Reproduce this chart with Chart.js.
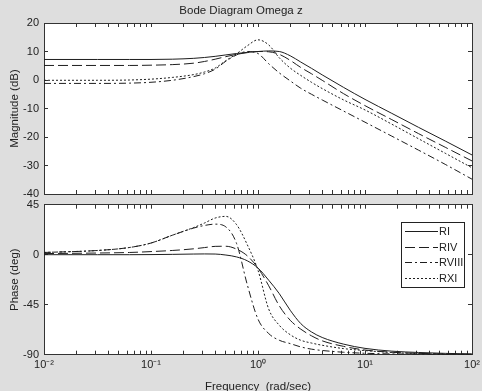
<!DOCTYPE html>
<html>
<head>
<meta charset="utf-8">
<title>Bode Diagram Omega z</title>
<script src="https://cdn.jsdelivr.net/npm/chart.js@4.4.1/dist/chart.umd.min.js"></script>
<style>
  html, body { margin: 0; padding: 0; background: #dedede; overflow: hidden; }
  #wrap { position: relative; width: 482px; height: 391px; overflow: hidden; }
  .box { position: absolute; left: 0; width: 482px; }
  #magBox { top: 0; height: 200px; }
  #phaseBox { top: 197px; height: 200px; }
</style>
</head>
<body>
<div id="wrap">
  <div class="box" id="magBox"><canvas id="magChart"></canvas></div>
  <div class="box" id="phaseBox"><canvas id="phaseChart"></canvas></div>
</div>
<script>
// --- data ---
const freq = [0.01, 0.0316, 0.0631, 0.1, 0.158, 0.251, 0.316, 0.398, 0.501, 0.631, 0.794, 1,
              1.26, 1.58, 2.0, 2.51, 3.16, 3.98, 6.31, 10, 17.8, 31.6, 56.2, 100];

const seriesNames = ['RI', 'RIV', 'RVIII', 'RXI'];

// magnitude (dB)
const magRI    = [7.2, 7.2, 7.2, 7.2, 7.3, 7.6, 7.9, 8.3, 8.8, 9.3, 9.7, 10.0, 10.2, 10.0, 8.5, 6.3, 4.1, 1.8, -2.6, -6.8, -11.7, -16.6, -21.4, -26.3];
const magRIV   = [5.1, 5.1, 5.1, 5.2, 5.4, 5.9, 6.5, 7.3, 8.2, 9.0, 9.6, 10.0, 9.9, 9.0, 6.9, 4.4, 2.2, -0.1, -4.8, -9.0, -13.9, -18.8, -23.6, -28.4];
const magRVIII = [-1.2, -1.2, -1.1, -0.8, -0.1, 1.2, 2.2, 3.8, 6.6, 8.8, 10.0, 9.3, 5.7, 2.5, -0.3, -2.9, -5.0, -7.0, -10.9, -14.8, -19.7, -24.6, -29.6, -34.8];
const magRXI   = [-0.1, -0.1, 0.0, 0.3, 0.9, 1.9, 2.8, 4.2, 6.8, 9.2, 12.0, 14.1, 12.3, 7.8, 4.2, 1.6, -0.8, -3.0, -7.0, -10.5, -15.5, -20.6, -25.7, -30.8];

// phase (deg)
const phRI    = [0, 0, 0, 0.1, 0.3, 0.6, 0.7, 0.6, -0.3, -2.0, -5.5, -12, -23, -35, -50, -62, -69.5, -74.5, -80.5, -84.3, -86.8, -88, -88.8, -89.3];
const phRIV   = [1.0, 1.5, 2.0, 2.8, 3.8, 5.3, 6.4, 7.5, 7.6, 5.0, -1.0, -12, -28, -46, -59, -67, -73, -77.5, -82.5, -85.8, -87.8, -88.8, -89.3, -89.6];
const phRVIII = [2.0, 3.8, 6.5, 10.5, 17.5, 24.0, 26.3, 27.5, 25.0, 10.0, -27, -58, -71, -77, -80, -83, -85, -86.2, -87.8, -88.7, -89.3, -89.6, -89.8, -90];
const phRXI   = [2.0, 3.8, 6.5, 10.5, 17.5, 24.5, 28.5, 33.0, 34.5, 27.0, 9.0, -14, -49, -63.5, -72, -77, -79.5, -81.5, -84.5, -86.3, -88, -89, -89.5, -89.8];

// ticks
const decades = [0.01, 0.1, 1, 10, 100];
const xTickLabels = ['10\u207B\u00B2', '10\u207B\u00B9', '10\u2070', '10\u00B9', '10\u00B2'];
const minorSteps = [1, 2, 3, 4, 5, 6, 7, 8, 9];
const magTicks = [-40, -30, -20, -10, 0, 10, 20];
const phaseTicks = [-90, -45, 0, 45];

const lineStyles = [[], [10, 4], [7, 3, 2, 3], [2, 2]];
const lineColor = '#1e1e1e';
const axisColor = '#333';

Chart.defaults.font.family = '"Liberation Sans", Arial, sans-serif';
Chart.defaults.font.size = 11;
Chart.defaults.color = '#222';

function pts(values) {
  return values.map((v, i) => ({ x: freq[i], y: v }));
}

function makeSets(lists) {
  return lists.map((vals, i) => ({
    label: seriesNames[i],
    data: pts(vals),
    borderColor: lineColor,
    borderWidth: 1,
    borderDash: lineStyles[i],
    pointRadius: 0,
    fill: false,
    cubicInterpolationMode: 'monotone'
  }));
}

function setLogTicks(scale) {
  const t = [];
  decades.forEach(d => minorSteps.forEach(m => {
    const v = d * m;
    if (v <= 100.0001) t.push({ value: v });
  }));
  scale.ticks = t;
}

function setFixedTicks(list) {
  return scale => { scale.ticks = list.map(v => ({ value: v })); };
}

function xLabel(v) {
  const i = decades.findIndex(d => Math.abs(d - v) / d < 1e-6);
  return i >= 0 ? xTickLabels[i] : '';
}

// keep the plot box where it is in the figure: no extra room for overhanging labels
function noPad(s) {
  s.paddingTop = 0; s.paddingBottom = 0; s.paddingLeft = 0; s.paddingRight = 0;
}

const gridOpts = { drawOnChartArea: false, drawTicks: true, tickLength: -4, color: axisColor };
const borderOpts = { display: true, color: axisColor, width: 1 };

function xScales(showLabels, height) {
  return {
    x: {
      type: 'logarithmic', position: 'bottom', min: 0.01, max: 100,
      afterBuildTicks: setLogTicks,
      afterFit: s => { s.height = height; noPad(s); },
      grid: gridOpts, border: borderOpts,
      ticks: { display: showLabels, autoSkip: false, maxRotation: 0, padding: 8, callback: xLabel },
      title: { display: showLabels, text: 'Frequency  (rad/sec)', font: { size: 11.5 }, padding: { top: 0, bottom: 3 } }
    },
    xTop: {
      type: 'logarithmic', position: 'top', min: 0.01, max: 100,
      afterBuildTicks: setLogTicks,
      afterFit: s => { s.height = 0; noPad(s); },
      grid: gridOpts, border: borderOpts,
      ticks: { display: false, autoSkip: false }
    }
  };
}

function yScales(min, max, list, title) {
  return {
    y: {
      type: 'linear', position: 'left', min: min, max: max,
      afterBuildTicks: setFixedTicks(list),
      afterFit: s => { s.width = 44; noPad(s); },
      grid: gridOpts, border: borderOpts,
      ticks: { padding: 9 },
      title: { display: true, text: title, font: { size: 11.5 }, padding: { top: 8, bottom: 0 } }
    },
    yRight: {
      type: 'linear', position: 'right', min: min, max: max,
      afterBuildTicks: setFixedTicks(list),
      afterFit: s => { s.width = 10; noPad(s); },
      grid: gridOpts, border: borderOpts,
      ticks: { display: false }
    }
  };
}

// white plot area like the MATLAB axes
const whiteArea = {
  id: 'whiteArea',
  beforeDraw(chart) {
    const { ctx, chartArea: a } = chart;
    ctx.save();
    ctx.fillStyle = '#fff';
    ctx.fillRect(a.left, a.top, a.right - a.left, a.bottom - a.top);
    ctx.restore();
  }
};

// legend box drawn inside the phase axes (upper right)
const insideLegend = {
  id: 'insideLegend',
  afterDraw(chart) {
    const { ctx, chartArea: a } = chart;
    const w = 63, h = 65;
    const x0 = Math.round(a.right - 8 - w), y0 = Math.round(a.top + 17);
    ctx.save();
    ctx.fillStyle = '#fff';
    ctx.fillRect(x0, y0, w, h);
    ctx.strokeStyle = '#222';
    ctx.lineWidth = 1;
    ctx.strokeRect(x0 + 0.5, y0 + 0.5, w, h);
    ctx.font = '11px "Liberation Sans", Arial, sans-serif';
    ctx.textBaseline = 'middle';
    chart.data.datasets.forEach((ds, i) => {
      const y = Math.round(y0 + 9 + i * 15.5) + 0.5;
      ctx.strokeStyle = lineColor;
      ctx.setLineDash(ds.borderDash);
      ctx.beginPath();
      ctx.moveTo(x0 + 4, y);
      ctx.lineTo(x0 + 37, y);
      ctx.stroke();
      ctx.setLineDash([]);
      ctx.fillStyle = '#222';
      ctx.fillText(ds.label, x0 + 38, y);
    });
    ctx.restore();
  }
};

new Chart(document.getElementById('magChart'), {
  type: 'line',
  data: { datasets: makeSets([magRI, magRIV, magRVIII, magRXI]) },
  options: {
    responsive: true, maintainAspectRatio: false, animation: false,
    layout: { padding: 0 },
    plugins: {
      legend: { display: false },
      tooltip: { enabled: false },
      title: { display: true, text: 'Bode Diagram Omega z', color: '#222', font: { size: 11.5, weight: 'normal' }, padding: { top: 4, bottom: 5.2 } }
    },
    scales: Object.assign(xScales(false, 6), yScales(-40, 20, magTicks, 'Magnitude (dB)'))
  },
  plugins: [whiteArea]
});

new Chart(document.getElementById('phaseChart'), {
  type: 'line',
  data: { datasets: makeSets([phRI, phRIV, phRVIII, phRXI]) },
  options: {
    responsive: true, maintainAspectRatio: false, animation: false,
    layout: { padding: { top: 7.7, left: 0, right: 0, bottom: 0 } },
    plugins: { legend: { display: false }, tooltip: { enabled: false } },
    scales: Object.assign(xScales(true, 42.3), yScales(-90, 45, phaseTicks, 'Phase (deg)'))
  },
  plugins: [whiteArea, insideLegend]
});
</script>
</body>
</html>
